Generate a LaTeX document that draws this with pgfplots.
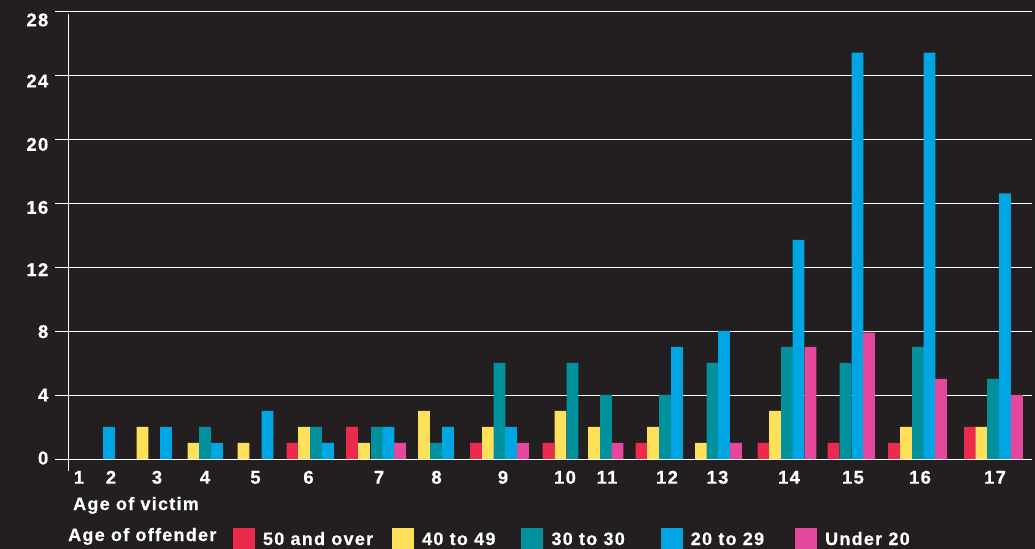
\documentclass[border=0pt]{standalone}
\usepackage{pgfplots}
\pgfplotsset{compat=1.18}
\usepackage{fontspec}
\setmainfont{Liberation Sans}[LetterSpace=7, BoldFeatures={FakeBold=0.5}]
\definecolor{bg}{HTML}{231F20}
\definecolor{cred}{HTML}{EC2A4E}
\definecolor{cyel}{HTML}{FEE05A}
\definecolor{cteal}{HTML}{00919D}
\definecolor{cblue}{HTML}{00A5E3}
\definecolor{cpink}{HTML}{E4479B}
\newcommand{\lblfont}{\fontsize{18bp}{20bp}\selectfont\bfseries}
\newcommand{\tickfont}{\fontsize{18.5bp}{20bp}\selectfont\bfseries}
\begin{document}
\begin{tikzpicture}
\fill[bg] (0,0) rectangle (1035bp,549bp);
\useasboundingbox (0,0) rectangle (1035bp,549bp);
\begin{axis}[
  at={(55bp,90bp)}, anchor=south west,
  scale only axis, width=977bp, height=448bp,
  xmin=55, xmax=1032, ymin=0, ymax=28,
  clip=false,
  axis line style={draw=none},
  major tick length=0pt,
  /pgf/number format/assume math mode=true,
  ytick={0,4,...,28}, yticklabels={},
  ymajorgrids, grid style={white, line width=0.9bp},
  extra y ticks={0.06,4,7.96,11.84,15.72,19.66,23.63,27.44},
  extra y tick labels={0,4,8,12,16,20,24,28},
  extra y tick style={grid=none},
  xtick={79,111,157,205,255.5,308.5,379,436.5,503,565,607,667,717.5,789,853,920,995},
  xticklabels={1,2,3,4,5,6,7,8,9,10,11,12,13,14,15,16,17},
  tick label style={font=\tickfont, text=white},
  yticklabel style={anchor=east, inner sep=0pt, xshift=-6.5bp},
  xticklabel style={anchor=base, inner sep=0pt, yshift=-24.7bp},
  legend columns=5,
  legend style={draw=none, fill=none, text=white, font=\lblfont,
    inner sep=0pt, outer sep=0pt, nodes={inner sep=0pt},
    cells={anchor=base west},
    at={(0.1822,-0.1786)}, anchor=west,
    /tikz/every odd column/.append style={column sep=8bp},
    /tikz/column 2/.style={column sep=19bp},
    /tikz/column 4/.style={column sep=26bp},
    /tikz/column 6/.style={column sep=36bp},
    /tikz/column 8/.style={column sep=31bp}},
  legend image code/.code={\fill[#1] (0bp,-5bp) rectangle (22bp,17bp);},
]
\addplot[ybar, bar width=11.7, bar shift=0pt, fill=cred, draw=none] coordinates {
 (292.5,1) (352,2) (476,1) (548.5,1) (641.5,1) (763.5,1) (833.5,1) (894,1) (970,2)};
\addlegendentry{50 and over}
\addplot[ybar, bar width=11.7, bar shift=0pt, fill=cyel, draw=none] coordinates {
 (142.5,2) (193.5,1) (243.5,1) (304,2) (364,1) (424,3) (488,2) (560.5,3) (594,2) (653,2) (701,1) (775,3) (906,2) (981.5,2)};
\addlegendentry{40 to 49}
\addplot[ybar, bar width=11.7, bar shift=0pt, fill=cteal, draw=none] coordinates {
 (205,2) (316,2) (377,2) (436,1) (499.5,6) (572.5,6) (606,4) (665,4) (712.5,6) (787,7) (845.5,6) (918,7) (993,5)};
\addlegendentry{30 to 30}
\addplot[ybar, bar width=11.7, bar shift=0pt, fill=cblue, draw=none] coordinates {
 (109,2) (166,2) (217,1) (267.5,3) (328,1) (388.5,2) (448,2) (511,2) (677,7) (724,8) (798.5,13.7) (857.5,25.4) (929.5,25.4) (1005,16.6)};
\addlegendentry{20 to 29}
\addplot[ybar, bar width=11.7, bar shift=0pt, fill=cpink, draw=none] coordinates {
 (400,1) (523,1) (617.5,1) (736,1) (810.5,7) (869,7.9) (941,5) (1017,4)};
\addlegendentry{Under 20}
\draw[white, line width=0.9bp] (axis cs:68,-0.75) -- (axis cs:68,27.81);
\end{axis}
\node[anchor=base west, inner sep=0pt, text=white, font=\lblfont] at (73bp,39bp) {Age of victim};
\node[anchor=base west, inner sep=0pt, text=white, font=\lblfont] at (68bp,8bp) {Age of offender};
\end{tikzpicture}
\end{document}
